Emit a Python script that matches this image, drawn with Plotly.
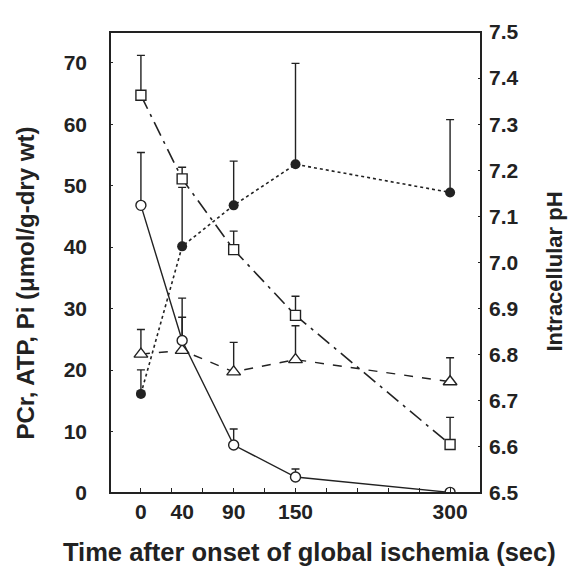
import plotly.graph_objects as go

# ---- data ----
time_sec = [0, 40, 90, 150, 300]
x_tick_labels = ["0", "40", "90", "150", "300"]

pcr = [46.8, 24.8, 7.8, 2.6, 0.1]
pcr_err = [8.6, 6.9, 2.6, 1.3, 0.0]

pi = [64.7, 51.1, 39.6, 28.9, 7.9]
pi_err = [6.5, 1.9, 3.0, 3.1, 4.4]

atp = [22.6, 23.2, 19.7, 21.7, 18.1]
atp_err = [4.0, 5.4, 4.8, 5.5, 3.9]

ph = [6.715, 7.035, 7.124, 7.213, 7.152]
ph_err = [0.052, 0.128, 0.096, 0.219, 0.158]

left_ticks = [0, 10, 20, 30, 40, 50, 60, 70]
right_ticks = [6.5, 6.6, 6.7, 6.8, 6.9, 7.0, 7.1, 7.2, 7.3, 7.4, 7.5]
right_tick_text = ["6.5", "6.6", "6.7", "6.8", "6.9", "7.0", "7.1", "7.2", "7.3", "7.4", "7.5"]

x_title = "Time after onset of global ischemia (sec)"
y_title = "PCr, ATP, Pi (μmol/g-dry wt)"
y2_title = "Intracellular pH"

INK = "#222222"
FONT = "Liberation Sans, Arial, sans-serif"


def err(vals):
    return dict(type="data", symmetric=False, array=vals, arrayminus=[0] * len(vals),
                color=INK, thickness=1.4, width=4)


fig = go.Figure()

fig.add_trace(go.Scatter(
    x=time_sec, y=pi, mode="lines+markers", name="Pi",
    line=dict(color=INK, width=1.6, dash="longdashdot"),
    marker=dict(symbol="square", size=10, color="white", line=dict(color=INK, width=1.4)),
    error_y=err(pi_err)))

fig.add_trace(go.Scatter(
    x=time_sec, y=atp, mode="lines+markers", name="ATP",
    line=dict(color=INK, width=1.4, dash="dash"),
    marker=dict(symbol="triangle-up", size=12, color="white", line=dict(color=INK, width=1.4)),
    error_y=err(atp_err)))

fig.add_trace(go.Scatter(
    x=time_sec, y=pcr, mode="lines+markers", name="PCr",
    line=dict(color=INK, width=1.4),
    marker=dict(symbol="circle", size=10, color="white", line=dict(color=INK, width=1.4)),
    error_y=err(pcr_err)))

fig.add_trace(go.Scatter(
    x=time_sec, y=ph, mode="lines+markers", name="pH", yaxis="y2",
    line=dict(color=INK, width=1.6, dash="dot"),
    marker=dict(symbol="circle", size=10, color=INK),
    error_y=err(ph_err)))

# invisible helper trace so the label axis is drawn
fig.add_trace(go.Scatter(x=[time_sec[0]], y=[pcr[0]], xaxis="x2", yaxis="y",
                         mode="markers", marker=dict(opacity=0), hoverinfo="skip"))

tick_font = dict(family=FONT, size=21, color=INK, weight="bold")

fig.update_layout(
    width=577, height=566,
    margin=dict(l=102, r=104, t=16, b=81),
    paper_bgcolor="white", plot_bgcolor="white",
    showlegend=False,
    xaxis=dict(
        range=[-30, 330], tickmode="array", tickvals=list(range(0, 301, 30)),
        showticklabels=False, ticks="inside", ticklen=5, tickwidth=1.3, tickcolor=INK,
        showline=False, showgrid=False, zeroline=False),
    xaxis2=dict(
        overlaying="x", anchor="y", side="bottom", range=[-30, 330],
        tickmode="array", tickvals=time_sec, ticktext=x_tick_labels,
        ticks="", tickfont=tick_font, ticklabelstandoff=4,
        showline=False, showgrid=False, zeroline=False),
    yaxis=dict(
        range=[0, 75], tickmode="array", tickvals=left_ticks,
        ticks="inside", ticklen=3, tickwidth=1.3, tickcolor=INK,
        tickfont=tick_font, ticklabelstandoff=22,
        showline=False, showgrid=False, zeroline=False),
    yaxis2=dict(
        overlaying="y", side="right", range=[6.5, 7.5], tickmode="array",
        tickvals=right_ticks, ticktext=right_tick_text,
        ticks="inside", ticklen=3, tickwidth=1.3, tickcolor=INK,
        tickfont=tick_font, ticklabelstandoff=7,
        showline=False, showgrid=False, zeroline=False),
    shapes=[dict(type="rect", xref="paper", yref="paper", x0=0, x1=1, y0=0, y1=1,
                 line=dict(color=INK, width=2), layer="above")],
    annotations=[
        dict(text=x_title, xref="paper", yref="paper", x=0.539, y=-0.128,
             xanchor="center", yanchor="middle", showarrow=False,
             font=dict(family=FONT, size=25.5, color=INK, weight="bold")),
        dict(text=y_title, xref="paper", yref="paper", x=-0.227, y=0.456, textangle=-90,
             xanchor="center", yanchor="middle", showarrow=False,
             font=dict(family=FONT, size=24, color=INK, weight="bold")),
        dict(text=y2_title, xref="paper", yref="paper", x=1.199, y=0.48, textangle=-90,
             xanchor="center", yanchor="middle", showarrow=False,
             font=dict(family=FONT, size=22, color=INK, weight="bold")),
    ],
)

fig.write_html("out.html")
